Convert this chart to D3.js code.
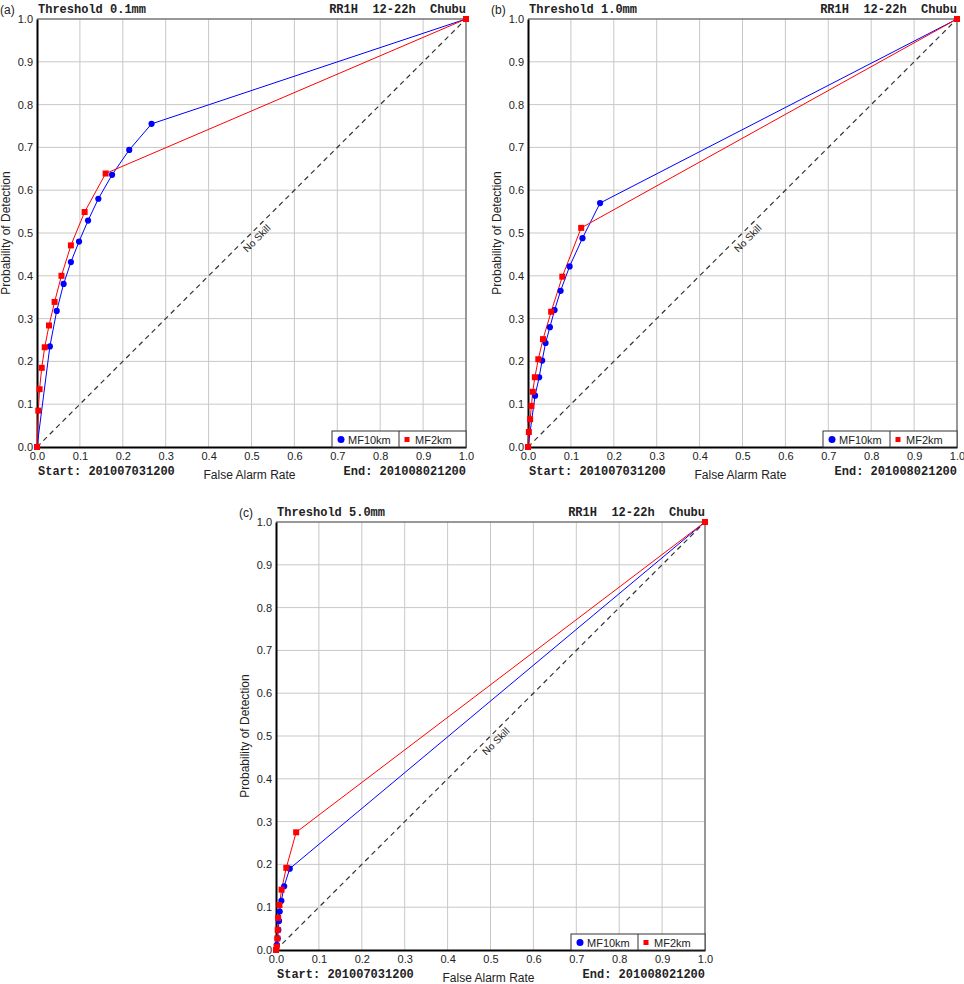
<!DOCTYPE html>
<html>
<head>
<meta charset="utf-8">
<script src="https://cdn.jsdelivr.net/npm/d3@7"></script>
<style>
  body { margin: 0; background: #fff; }
  svg { display: block; }
  .tick text { font-family: "Liberation Sans", Arial, sans-serif; font-size: 11px; fill: #222; }
  .mono { font-family: "Liberation Mono", "Courier New", monospace; font-weight: bold; font-size: 12px; fill: #222; }
  .sans { font-family: "Liberation Sans", Arial, sans-serif; fill: #222; }
</style>
</head>
<body>
<svg id="chart" width="964" height="984"></svg>
<script>
// ** Data **
const ticks = [0, 0.1, 0.2, 0.3, 0.4, 0.5, 0.6, 0.7, 0.8, 0.9, 1.0];
const seriesNames = ["MF10km", "MF2km"];

// (a) threshold 0.1mm
const farA10 = [0, 0.030, 0.046, 0.062, 0.079, 0.098, 0.119, 0.143, 0.175, 0.215, 0.267, 1];
const podA10 = [0, 0.235, 0.318, 0.381, 0.432, 0.480, 0.529, 0.580, 0.636, 0.694, 0.755, 1];
const farA2  = [0, 0.003, 0.006, 0.011, 0.018, 0.028, 0.041, 0.057, 0.079, 0.111, 0.160, 1];
const podA2  = [0, 0.085, 0.135, 0.185, 0.233, 0.284, 0.339, 0.400, 0.471, 0.549, 0.639, 1];

// (b) threshold 1.0mm
const farB10 = [0, 0.0165, 0.026, 0.033, 0.041, 0.051, 0.062, 0.076, 0.097, 0.127, 0.168, 1];
const podB10 = [0, 0.120, 0.163, 0.202, 0.243, 0.280, 0.320, 0.365, 0.422, 0.488, 0.570, 1];
const farB2  = [0, 0.002, 0.005, 0.008, 0.011, 0.016, 0.024, 0.035, 0.054, 0.080, 0.124, 1];
const podB2  = [0, 0.035, 0.065, 0.096, 0.129, 0.163, 0.205, 0.252, 0.316, 0.398, 0.512, 1];

// (c) threshold 5.0mm
const farC10 = [0, 0.002, 0.004, 0.0055, 0.007, 0.0086, 0.0125, 0.019, 0.032, 1];
const podC10 = [0, 0.012, 0.027, 0.047, 0.068, 0.090, 0.115, 0.149, 0.190, 1];
const farC2  = [0, 0.0015, 0.003, 0.004, 0.005, 0.008, 0.013, 0.024, 0.047, 1];
const podC2  = [0, 0.008, 0.027, 0.047, 0.075, 0.105, 0.141, 0.192, 0.275, 1];

const panels = [
  { tag: "(a)", title: "Threshold 0.1mm", left: 37,  top: 19,  far10: farA10, pod10: podA10, far2: farA2, pod2: podA2 },
  { tag: "(b)", title: "Threshold 1.0mm", left: 528, top: 19,  far10: farB10, pod10: podB10, far2: farB2, pod2: podB2 },
  { tag: "(c)", title: "Threshold 5.0mm", left: 276, top: 522, far10: farC10, pod10: podC10, far2: farC2, pod2: podC2 }
];

const plotW = 429, plotH = 428;
const blue = "#0000ff", red = "#ff0000";

const svg = d3.select("#chart");

function zip(xs, ys) {
  return xs.map(function(x, i) { return [x, ys[i]]; });
}

function drawPanel(p) {
  let g = svg.append("g").attr("transform", "translate(" + p.left + "," + p.top + ")");
  let x = d3.scaleLinear().domain([0, 1]).range([0, plotW]);
  let y = d3.scaleLinear().domain([0, 1]).range([plotH, 0]);

  // grid
  g.append("g").selectAll("line.vx").data(ticks.slice(1, -1)).join("line")
    .attr("x1", d => x(d)).attr("x2", d => x(d))
    .attr("y1", 0).attr("y2", plotH)
    .attr("stroke", "#c8c8c8").attr("stroke-width", 1);
  g.append("g").selectAll("line.hy").data(ticks.slice(1, -1)).join("line")
    .attr("y1", d => y(d)).attr("y2", d => y(d))
    .attr("x1", 0).attr("x2", plotW)
    .attr("stroke", "#c8c8c8").attr("stroke-width", 1);

  // top/right frame
  g.append("path")
    .attr("d", "M0," + y(1) + "H" + x(1) + "V" + y(0))
    .attr("fill", "none").attr("stroke", "#777").attr("stroke-width", 1.5);

  // axes
  let xAxis = d3.axisBottom(x).tickValues(ticks).tickFormat(d3.format(".1f")).tickSize(0).tickPadding(5);
  let yAxis = d3.axisLeft(y).tickValues(ticks).tickFormat(d3.format(".1f")).tickSize(0).tickPadding(4);
  g.append("g").attr("transform", "translate(0," + plotH + ")").call(xAxis)
    .call(a => a.select(".domain").attr("stroke", "#000").attr("stroke-width", 2));
  g.append("g").call(yAxis)
    .call(a => a.select(".domain").attr("stroke", "#000").attr("stroke-width", 2));

  // no skill line
  g.append("line")
    .attr("x1", x(0)).attr("y1", y(0)).attr("x2", x(1)).attr("y2", y(1))
    .attr("stroke", "#333").attr("stroke-width", 1.2).attr("stroke-dasharray", "5,4");
  g.append("text").attr("class", "sans")
    .attr("transform", "translate(" + x(0.5) + "," + y(0.5) + ") rotate(-45)")
    .attr("text-anchor", "middle").attr("dy", 11)
    .style("font-size", "10px")
    .text("No Skill");

  let line = d3.line().x(d => x(d[0])).y(d => y(d[1]));

  let pts10 = zip(p.far10, p.pod10);
  let pts2 = zip(p.far2, p.pod2);

  g.append("path").datum(pts10).attr("d", line)
    .attr("fill", "none").attr("stroke", blue).attr("stroke-width", 1);
  g.append("path").datum(pts2).attr("d", line)
    .attr("fill", "none").attr("stroke", red).attr("stroke-width", 1);

  g.append("g").selectAll("circle").data(pts10).join("circle")
    .attr("cx", d => x(d[0])).attr("cy", d => y(d[1])).attr("r", 3.1)
    .attr("fill", blue);
  g.append("g").selectAll("rect").data(pts2).join("rect")
    .attr("x", d => x(d[0]) - 3).attr("y", d => y(d[1]) - 3)
    .attr("width", 6).attr("height", 6)
    .attr("fill", red);

  // legend
  let lg = g.append("g").attr("transform", "translate(" + (plotW - 134) + "," + (plotH - 16) + ")");
  lg.append("rect").attr("width", 134).attr("height", 16)
    .attr("fill", "#fff").attr("stroke", "#333").attr("stroke-width", 1);
  lg.append("line").attr("x1", 67).attr("x2", 67).attr("y1", 0).attr("y2", 16)
    .attr("stroke", "#333").attr("stroke-width", 1);
  lg.append("circle").attr("cx", 9).attr("cy", 8.5).attr("r", 3.5).attr("fill", blue);
  lg.append("text").attr("class", "sans").attr("x", 16).attr("y", 12.5)
    .style("font-size", "11px").text(seriesNames[0]);
  lg.append("rect").attr("x", 72.5).attr("y", 6).attr("width", 5).attr("height", 5).attr("fill", red);
  lg.append("text").attr("class", "sans").attr("x", 83).attr("y", 12.5)
    .style("font-size", "11px").text(seriesNames[1]);

  // header / footer texts
  g.append("text").attr("class", "mono").attr("x", 1).attr("y", -6).text(p.title);
  g.append("text").attr("class", "mono").attr("x", plotW).attr("y", -6)
    .attr("text-anchor", "end").attr("xml:space", "preserve").text("RR1H  12-22h  Chubu");
  g.append("text").attr("class", "mono").attr("x", 1).attr("y", plotH + 28).text("Start: 201007031200");
  g.append("text").attr("class", "mono").attr("x", plotW).attr("y", plotH + 28)
    .attr("text-anchor", "end").text("End: 201008021200");
  g.append("text").attr("class", "sans").attr("x", plotW / 2 - 2).attr("y", plotH + 32)
    .attr("text-anchor", "middle").style("font-size", "12px").text("False Alarm Rate");
  g.append("text").attr("class", "sans")
    .attr("transform", "translate(" + (-27) + "," + (plotH / 2) + ") rotate(-90)")
    .attr("text-anchor", "middle").style("font-size", "12px").text("Probability of Detection");
  g.append("text").attr("class", "sans").attr("x", -37).attr("y", -5)
    .style("font-size", "12px").text(p.tag);
}

panels.forEach(drawPanel);
</script>
</body>
</html>
